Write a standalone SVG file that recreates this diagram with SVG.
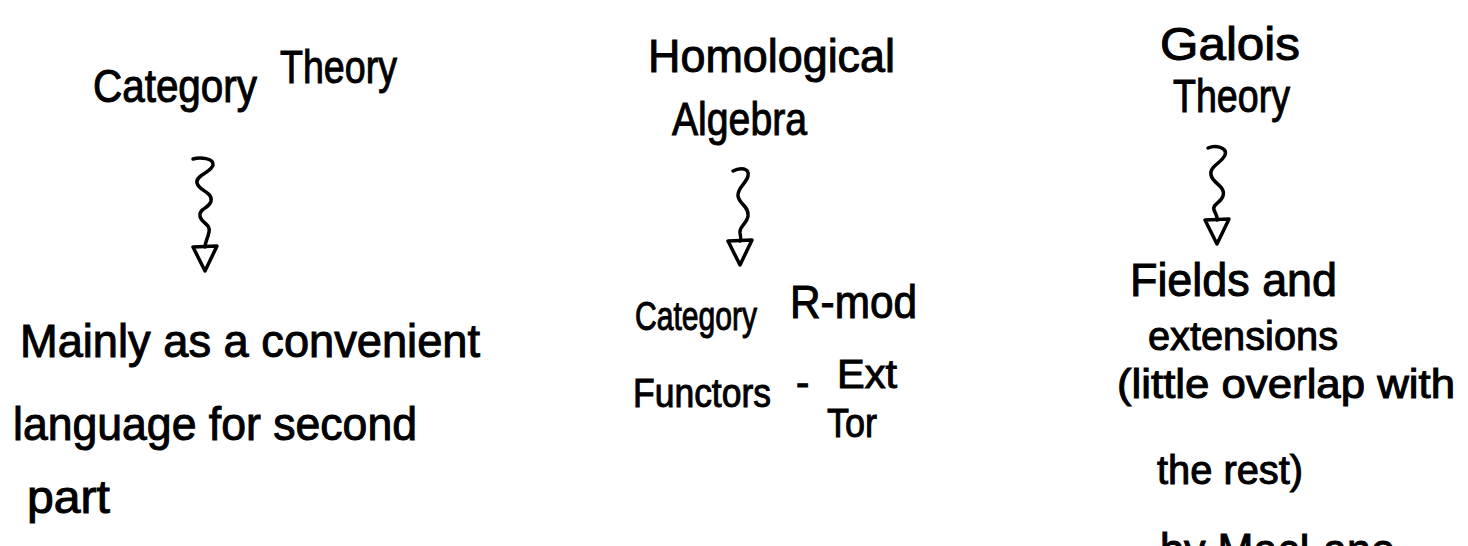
<svg xmlns="http://www.w3.org/2000/svg" width="1468" height="546" viewBox="0 0 1468 546">
  <style>
    .t { font-family: "Liberation Sans", Arial, sans-serif; font-size: 46px; fill: #000; stroke: #000; stroke-width: 1px; }
    .s { font-size: 40px; }
    .sq { fill: none; stroke: #000; stroke-width: 3.5; stroke-linecap: round; stroke-linejoin: round; }
  </style>
  <defs>
    <marker id="tri" viewBox="0 0 30 30" refX="15" refY="3" markerWidth="30" markerHeight="30" markerUnits="userSpaceOnUse" orient="0">
      <polygon points="3,3 27,2 15,27" fill="none" stroke="#000" stroke-width="3.5" stroke-linejoin="round"/>
    </marker>
  </defs>
  <rect width="1468" height="546" fill="#fff"/>

  <g id="category-theory">
    <text class="t" x="93" y="102" textLength="164" lengthAdjust="spacingAndGlyphs">Category</text>
    <text class="t" x="280" y="83" textLength="117" lengthAdjust="spacingAndGlyphs">Theory</text>
  </g>
  <g id="convenient-language">
    <text class="t" x="20" y="357" textLength="460" lengthAdjust="spacingAndGlyphs">Mainly as a convenient</text>
    <text class="t" x="13" y="440" textLength="404" lengthAdjust="spacingAndGlyphs">language for second</text>
    <text class="t" x="27" y="513" textLength="83" lengthAdjust="spacingAndGlyphs">part</text>
  </g>

  <g id="homological-algebra">
    <text class="t" x="648" y="72" textLength="247" lengthAdjust="spacingAndGlyphs">Homological</text>
    <text class="t" x="672" y="135" textLength="135" lengthAdjust="spacingAndGlyphs">Algebra</text>
  </g>
  <g id="category-rmod">
    <text class="t s" x="635" y="330" textLength="122" lengthAdjust="spacingAndGlyphs">Category</text>
    <text class="t" x="790" y="318" textLength="127" lengthAdjust="spacingAndGlyphs">R-mod</text>
    <text class="t s" x="633" y="407" textLength="138" lengthAdjust="spacingAndGlyphs">Functors</text>
    <text class="t s" x="796" y="396">-</text>
    <text class="t s" x="837" y="388" textLength="60" lengthAdjust="spacingAndGlyphs">Ext</text>
    <text class="t s" x="827" y="437" textLength="50" lengthAdjust="spacingAndGlyphs">Tor</text>
  </g>

  <g id="galois-theory">
    <text class="t" x="1160" y="60" textLength="140" lengthAdjust="spacingAndGlyphs">Galois</text>
    <text class="t" x="1173" y="112" textLength="117" lengthAdjust="spacingAndGlyphs">Theory</text>
  </g>
  <g id="fields-extensions">
    <text class="t" x="1130" y="296" textLength="207" lengthAdjust="spacingAndGlyphs">Fields and</text>
    <text class="t s" x="1148" y="350" textLength="190" lengthAdjust="spacingAndGlyphs">extensions</text>
    <text class="t s" x="1117" y="398" textLength="338" lengthAdjust="spacingAndGlyphs">(little overlap with</text>
    <text class="t s" x="1157" y="484" textLength="146" lengthAdjust="spacingAndGlyphs">the rest)</text>
    <text class="t" x="1160" y="566" textLength="235" lengthAdjust="spacingAndGlyphs">by MacLane</text>
  </g>

  <g id="connectors">
    <path class="sq" marker-end="url(#tri)" d="M193,159 C200,157 214,158 213,165 C212,172 195,175 197,183 C199,191 213,192 211,201 C209,209 199,208 200,216 C201,223 211,224 209,232 C208,238 205,242 205,247"/>
    <path class="sq" marker-end="url(#tri)" d="M733,171 C740,167 750,168 748,176 C746,184 737,188 738,196 C739,204 749,206 748,216 C747,224 739,226 740,233 C741,238 741,240 740,241"/>
    <path class="sq" marker-end="url(#tri)" d="M1208,148 C1215,145 1228,147 1225,155 C1222,163 1209,166 1211,175 C1213,184 1226,186 1223,196 C1221,203 1212,204 1214,210 C1216,215 1218,217 1217,220"/>
  </g>
</svg>
